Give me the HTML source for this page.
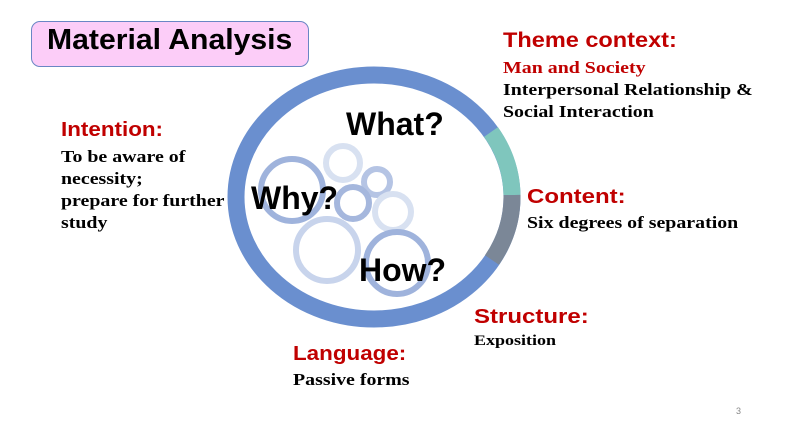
<!DOCTYPE html><html><head><style>
body{margin:0;width:794px;height:447px;background:#fff;position:relative;overflow:hidden;font-family:"Liberation Serif",serif}
.a{position:absolute;white-space:nowrap;transform-origin:0 0}
.h{font-family:"Liberation Sans",sans-serif;font-weight:bold;color:#c00000;font-size:20px;transform:scaleX(1.12)}
.t{font-weight:bold;font-size:17px;color:#000;line-height:22px;transform:scaleX(1.17)}
.q{font-family:"Liberation Sans",sans-serif;font-weight:bold;font-size:32px;color:#000}
</style></head><body>
<div class="a" style="left:31px;top:21px;width:276px;height:44px;background:#fccdf8;border:1.5px solid #6a86c4;border-radius:9px"></div>
<div class="a" style="left:47px;top:24px;font-family:'Liberation Sans',sans-serif;font-weight:bold;font-size:29px;transform:scaleX(1.04)">Material Analysis</div>
<svg class="a" style="left:0;top:0" width="794" height="447">
<g fill="none" stroke-width="6">
<circle cx="292" cy="190" r="31" stroke="#9fb3dc"/>
<circle cx="343" cy="163" r="17" stroke="#d8e1f1"/>
<circle cx="377" cy="182" r="13" stroke="#b5c4e4"/>
<circle cx="353" cy="203" r="16" stroke="#a5b7dd"/>
<circle cx="393" cy="212" r="18" stroke="#d8e1f1"/>
<circle cx="327" cy="250" r="31" stroke="#c8d4ec"/>
<circle cx="397" cy="263" r="31" stroke="#9fb3dc"/>
</g>
<ellipse cx="374" cy="197" rx="138" ry="122" fill="none" stroke="#6a8fcf" stroke-width="17"/>
<path d="M491 132 A138 122 0 0 1 512 195" fill="none" stroke="#7fc6bd" stroke-width="17"/>
<path d="M512 195 A138 122 0 0 1 492 260" fill="none" stroke="#7b8797" stroke-width="17"/>
</svg>
<div class="a q" style="left:346px;top:106px">What?</div>
<div class="a q" style="left:251px;top:180px">Why?</div>
<div class="a q" style="left:359px;top:252px">How?</div>
<div class="a h" style="left:503px;top:29px;font-size:21px">Theme context:</div>
<div class="a t" style="left:503px;top:57px"><span style="color:#c00000">Man and Society</span><br>Interpersonal Relationship &amp;<br>Social Interaction</div>
<div class="a h" style="left:61px;top:119px">Intention:</div>
<div class="a t" style="left:61px;top:146px">To be aware of<br>necessity;<br>prepare for further<br>study</div>
<div class="a h" style="left:527px;top:186px;transform:scaleX(1.2)">Content:</div>
<div class="a t" style="left:527px;top:212px">Six degrees of separation</div>
<div class="a h" style="left:474px;top:306px;transform:scaleX(1.2)">Structure:</div>
<div class="a t" style="left:474px;top:330px;font-size:15px;transform:scaleX(1.2)">Exposition</div>
<div class="a h" style="left:293px;top:343px">Language:</div>
<div class="a t" style="left:293px;top:369px">Passive forms</div>
<div class="a" style="left:736px;top:406px;font-family:'Liberation Sans',sans-serif;font-size:9px;color:#888">3</div>
</body></html>
